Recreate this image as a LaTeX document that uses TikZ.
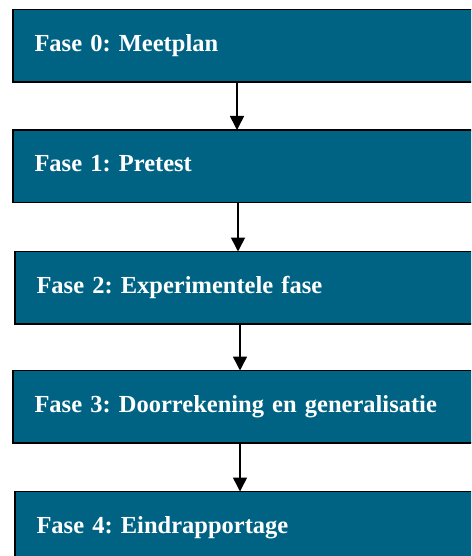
\documentclass[tikz,border=0pt]{standalone}
\usepackage{fontspec}
\setmainfont{Liberation Serif}
\usetikzlibrary{arrows.meta}
\definecolor{phasefill}{RGB}{0,99,132}
\frenchspacing
\begin{document}
\begin{tikzpicture}[x=1pt,y=-1pt,
  phase/.style={draw=black, line width=1.6pt, fill=phasefill, anchor=north west,
    outer sep=0pt, inner xsep=21.5pt, inner ysep=0pt, text width=437pt, align=left,
    minimum height=72.5pt, text height=16pt, text depth=5pt, text=white,
    font=\fontsize{24.5}{26}\selectfont\bfseries},
  flow/.style={line width=1.6pt, -{Triangle[length=14pt,width=14pt]}}]
\useasboundingbox (0,0) rectangle (471,556);
\clip (0,0) rectangle (471,556);

% phase boxes, running past the right edge
\node[phase] (b0) at (13,9.5)   {Fase 0: Meetplan};
\node[phase] (b1) at (13,130)   {Fase 1: Pretest};
\node[phase] (b2) at (15,251.5) {Fase 2: Experimentele fase};
\node[phase] (b3) at (13,370.5) {Fase 3: Doorrekening en generalisatie};
\node[phase] (b4) at (15,491.5) {Fase 4: Eindrapportage};

% columns of the connecting arrows
\coordinate (c01) at (237,0);
\coordinate (c12) at (238,0);
\coordinate (c23) at (240,0);
\coordinate (c34) at (240,0);

\draw[flow] (b0.south -| c01) -- (b1.north -| c01);
\draw[flow] (b1.south -| c12) -- (b2.north -| c12);
\draw[flow] (b2.south -| c23) -- (b3.north -| c23);
\draw[flow] (b3.south -| c34) -- (b4.north -| c34);
\end{tikzpicture}
\end{document}
